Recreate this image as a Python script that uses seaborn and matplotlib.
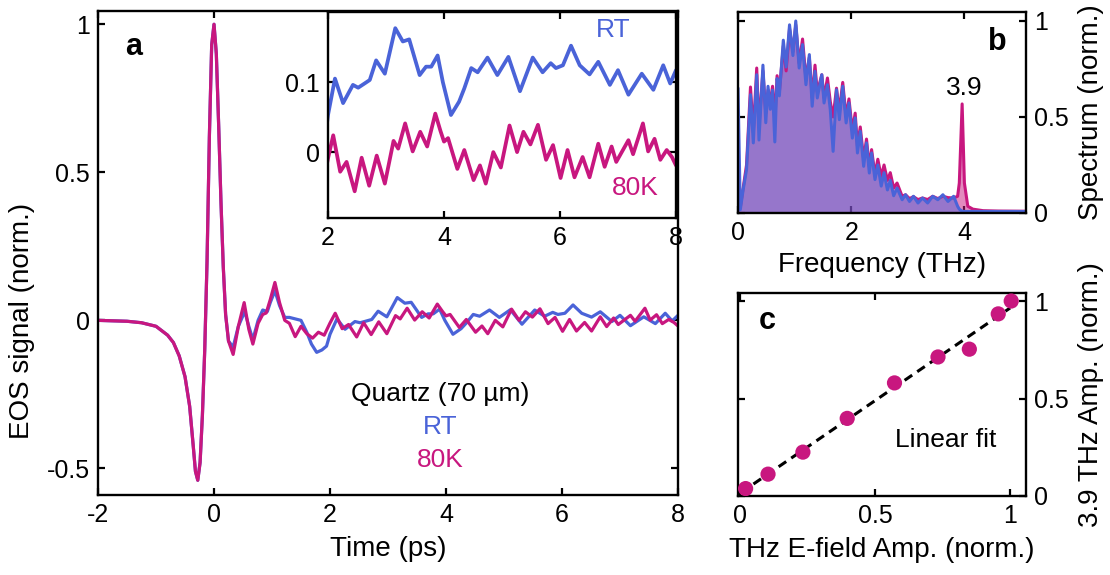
import matplotlib
matplotlib.use("Agg")
import matplotlib.pyplot as plt
import numpy as np
import seaborn as sns

# ---- panel a: EOS time traces ----
t_pulse = [-2.0, -1.5, -1.25, -1.0, -0.8, -0.7, -0.6, -0.5, -0.42, -0.36, -0.32, -0.28,
           -0.24, -0.2, -0.16, -0.12, -0.08, -0.04, 0.0, 0.04, 0.08, 0.12, 0.16, 0.2, 0.25]
v_pulse = [0.0, -0.003, -0.008, -0.02, -0.05, -0.075, -0.12, -0.19, -0.29, -0.42, -0.51, -0.54,
           -0.48, -0.32, -0.1, 0.2, 0.62, 0.93, 1.0, 0.9, 0.66, 0.4, 0.18, 0.02, -0.07]

t_rt_tail = [0.33, 0.42, 0.53, 0.6, 0.67, 0.76, 0.84, 0.92, 0.97, 1.05, 1.13, 1.22, 1.3, 1.4,
             1.5, 1.6, 1.68, 1.77, 1.86, 1.94,
             2.0, 2.12, 2.26, 2.43, 2.52, 2.63, 2.72, 2.83, 2.98, 3.16, 3.29, 3.4, 3.58, 3.69,
             3.78, 3.89, 3.98, 4.12, 4.26, 4.35, 4.47, 4.58, 4.75, 4.92, 5.11, 5.31, 5.53, 5.7,
             5.84, 5.93, 6.05, 6.19, 6.34, 6.51, 6.66, 6.86, 7.0, 7.18, 7.41, 7.61, 7.78, 7.9, 8.0]
v_rt_tail = [-0.09, -0.02, 0.03, -0.02, -0.065, 0.0, 0.035, 0.03, 0.06, 0.1, 0.05, 0.01, 0.01, 0.005,
             0.0, -0.04, -0.08, -0.108, -0.1, -0.087,
             -0.047, 0.005, -0.03, -0.004, -0.008, -0.002, 0.003, 0.031, 0.012, 0.077, 0.058, 0.061,
             0.01, 0.022, 0.022, 0.038, 0.0, -0.047, -0.028, -0.009, 0.02, 0.014, 0.035, 0.01,
             0.036, -0.013, 0.035, 0.014, 0.027, 0.02, 0.024, 0.052, 0.024, 0.011, 0.029, -0.004,
             0.017, -0.018, 0.012, -0.011, 0.024, -0.002, 0.017]

t_80k_tail = [0.33, 0.42, 0.52, 0.6, 0.67, 0.76, 0.84, 0.9, 0.97, 1.05, 1.13, 1.22, 1.3, 1.4,
              1.5, 1.6, 1.7, 1.8, 1.9,
              2.0, 2.09, 2.21, 2.32, 2.46, 2.58, 2.71, 2.84, 2.98, 3.13, 3.21, 3.33, 3.46, 3.59,
              3.71, 3.85, 3.94, 4.0, 4.07, 4.23, 4.35, 4.51, 4.62, 4.72, 4.85, 4.98, 5.13, 5.26,
              5.37, 5.49, 5.62, 5.76, 5.88, 6.01, 6.13, 6.25, 6.39, 6.51, 6.66, 6.77, 6.89, 6.97,
              7.18, 7.26, 7.43, 7.52, 7.63, 7.73, 7.84, 7.93, 8.0]
v_80k_tail = [-0.115, -0.02, 0.06, -0.03, -0.08, -0.01, 0.02, 0.025, 0.07, 0.128, 0.06, 0.0, -0.01,
              -0.055, -0.02, -0.045, -0.06, -0.04, -0.05,
              -0.009, 0.024, -0.028, -0.014, -0.056, -0.008, -0.048, -0.005, -0.045, 0.016, 0.005,
              0.041, 0.001, 0.029, 0.008, 0.055, 0.03, 0.015, 0.02, -0.024, 0.003, -0.04, -0.019,
              -0.045, 0.0, -0.022, 0.038, 0.0, 0.029, 0.011, 0.039, -0.011, 0.01, -0.037, 0.003,
              -0.036, -0.007, -0.036, 0.012, -0.021, 0.008, -0.014, 0.017, -0.003, 0.041, 0.001,
              0.019, -0.011, 0.003, -0.007, -0.019]

t_rt = t_pulse + t_rt_tail
v_rt = v_pulse + v_rt_tail
t_80k = t_pulse + t_80k_tail
v_80k = v_pulse + v_80k_tail
inset_offset_rt = 0.1

# ---- panel b: spectra ----
freq = [0.0, 0.04, 0.09, 0.15, 0.22, 0.27, 0.33, 0.37, 0.44, 0.49, 0.53, 0.57, 0.61, 0.65, 0.69,
        0.73, 0.8, 0.85, 0.91, 0.97, 1.02, 1.08, 1.14, 1.2, 1.26, 1.31, 1.36, 1.4, 1.48, 1.52,
        1.58, 1.63, 1.68, 1.74, 1.79, 1.85, 1.91, 1.96, 2.02, 2.07, 2.11, 2.16, 2.22, 2.27, 2.32,
        2.36, 2.42, 2.47, 2.53, 2.58, 2.64, 2.69, 2.75, 2.81, 2.9, 2.96, 3.03, 3.1, 3.18, 3.26,
        3.35, 3.44, 3.53, 3.62, 3.71, 3.81, 3.88, 3.91, 3.96, 4.0, 4.06, 4.15, 4.33, 4.6, 5.08]
spec_rt = [0.65, 0.017, 0.12, 0.226, 0.616, 0.365, 0.72, 0.38, 0.77, 0.47, 0.66, 0.54, 0.64, 0.37,
           0.7, 0.61, 0.9, 0.76, 0.98, 0.82, 1.0, 0.755, 0.877, 0.668, 0.825, 0.556, 0.738, 0.599,
           0.72, 0.573, 0.668, 0.538, 0.321, 0.642, 0.486, 0.66, 0.469, 0.573, 0.39, 0.495, 0.3125,
           0.425, 0.243, 0.365, 0.208, 0.3125, 0.174, 0.25, 0.14, 0.21, 0.12, 0.17, 0.09, 0.13,
           0.069, 0.095, 0.06, 0.087, 0.052, 0.078, 0.052, 0.087, 0.069, 0.095, 0.06, 0.087, 0.035,
           0.02, 0.009, 0.008, 0.008, 0.008, 0.008, 0.008, 0.008]
spec_80k = [0.03, 0.03, 0.13, 0.25, 0.656, 0.42, 0.755, 0.45, 0.74, 0.52, 0.64, 0.58, 0.66, 0.48,
            0.715, 0.63, 0.87, 0.74, 0.96, 0.84, 0.98, 0.78, 0.906, 0.7, 0.81, 0.6, 0.77, 0.63,
            0.72, 0.6, 0.703, 0.58, 0.5, 0.65, 0.53, 0.68, 0.5, 0.594, 0.43, 0.52, 0.35, 0.448,
            0.28, 0.385, 0.24, 0.33, 0.2, 0.28, 0.19, 0.25, 0.17, 0.21, 0.13, 0.156, 0.087, 0.095,
            0.075, 0.085, 0.07, 0.078, 0.07, 0.087, 0.075, 0.087, 0.08, 0.078, 0.087, 0.156, 0.568,
            0.156, 0.035, 0.02, 0.012, 0.01, 0.009]

# ---- panel c: 3.9 THz amplitude vs field ----
field_amp = [0.021, 0.104, 0.233, 0.397, 0.572, 0.733, 0.849, 0.956, 1.004]
phonon_amp = [0.038, 0.112, 0.225, 0.398, 0.58, 0.713, 0.753, 0.934, 1.0]

BLUE = "#4a63d8"
MAG = "#c8177f"

sns.set_theme(style="ticks")
plt.rcParams["font.family"] = ["Liberation Sans", "DejaVu Sans"]
plt.rcParams["axes.unicode_minus"] = False
plt.rcParams["text.color"] = "black"
plt.rcParams["axes.labelcolor"] = "black"
plt.rcParams["lines.solid_joinstyle"] = "round"
TICK_FS = 18
LAB_FS = 20
TXT_FS = 19


def style_axis(ax, right_labels=False):
    ax.tick_params(direction="in", length=5, width=1.6, top=True, right=True,
                   labelsize=TICK_FS, colors="black", pad=6,
                   labelleft=not right_labels, labelright=right_labels)
    for s in ax.spines.values():
        s.set_linewidth(1.7)
        s.set_color("black")


fig = plt.figure(figsize=(11.1, 5.75), dpi=100)

# panel a
ax_a = fig.add_axes([0.0883, 0.139, 0.5225, 0.842])
sns.lineplot(x=t_rt, y=v_rt, ax=ax_a, color=BLUE, linewidth=2.3, sort=False)
sns.lineplot(x=t_80k, y=v_80k, ax=ax_a, color=MAG, linewidth=2.3, sort=False)
ax_a.set_xlim(-2, 8)
ax_a.set_ylim(-0.59, 1.045)
ax_a.set_xticks([-2, 0, 2, 4, 6, 8])
ax_a.set_xticklabels(["-2", "0", "2", "4", "6", "8"])
ax_a.set_yticks([-0.5, 0, 0.5, 1])
ax_a.set_yticklabels(["-0.5", "0", "0.5", "1"])
ax_a.set_xlabel("Time (ps)", fontsize=LAB_FS, labelpad=6)
ax_a.set_ylabel("EOS signal (norm.)", fontsize=LAB_FS)
ax_a.yaxis.set_label_coords(-0.108, 0.36)
style_axis(ax_a)
ax_a.text(0.047, 0.925, "a", transform=ax_a.transAxes, fontsize=22, fontweight="bold", va="center")
ax_a.text(3.9, -0.25, "Quartz (70 µm)", fontsize=TXT_FS, ha="center", va="center")
ax_a.text(3.9, -0.36, "RT", fontsize=TXT_FS, ha="center", va="center", color=BLUE)
ax_a.text(3.9, -0.47, "80K", fontsize=TXT_FS, ha="center", va="center", color=MAG)

# inset
ax_i = fig.add_axes([0.2955, 0.621, 0.3135, 0.358])
sns.lineplot(x=t_rt, y=np.array(v_rt) + inset_offset_rt, ax=ax_i, color=BLUE, linewidth=2.7, sort=False)
sns.lineplot(x=t_80k, y=v_80k, ax=ax_i, color=MAG, linewidth=2.7, sort=False)
ax_i.set_xlim(2, 8)
ax_i.set_ylim(-0.094, 0.2)
ax_i.set_xticks([2, 4, 6, 8])
ax_i.set_yticks([0, 0.1])
ax_i.set_yticklabels(["0", "0.1"])
style_axis(ax_i)
ax_i.text(6.92, 0.174, "RT", fontsize=TXT_FS, ha="center", va="center", color=BLUE)
ax_i.text(7.3, -0.051, "80K", fontsize=TXT_FS, ha="center", va="center", color=MAG)

# panel b
ax_b = fig.add_axes([0.6649, 0.6296, 0.2595, 0.3496])
ax_b.fill_between(freq, spec_80k, color=MAG, alpha=0.5, linewidth=0)
ax_b.fill_between(freq, spec_rt, color=BLUE, alpha=0.5, linewidth=0)
sns.lineplot(x=freq, y=spec_80k, ax=ax_b, color=MAG, linewidth=2.2, sort=False)
sns.lineplot(x=freq, y=spec_rt, ax=ax_b, color=BLUE, linewidth=2.2, sort=False)
ax_b.set_xlim(0, 5.09)
ax_b.set_ylim(0, 1.047)
ax_b.set_xticks([0, 2, 4])
ax_b.set_yticks([0, 0.5, 1])
ax_b.set_yticklabels(["0", "0.5", "1"])
ax_b.set_xlabel("Frequency (THz)", fontsize=LAB_FS, labelpad=5)
ax_b.set_ylabel("Spectrum (norm.)", fontsize=LAB_FS, labelpad=6)
ax_b.yaxis.set_label_position("right")
style_axis(ax_b, right_labels=True)
ax_b.text(4.59, 0.89, "b", fontsize=22, fontweight="bold", ha="center", va="center")
ax_b.text(4.0, 0.65, "3.9", fontsize=TXT_FS, ha="center", va="center")

# panel c
ax_c = fig.add_axes([0.6649, 0.1374, 0.2595, 0.353])
slope, icpt = np.polyfit(field_amp, phonon_amp, 1)
fit_x = np.array([0.05, 1.0])
ax_c.plot(fit_x, slope * fit_x + icpt, color="black", linestyle=(0, (3, 2)), linewidth=2.2)
sns.scatterplot(x=field_amp, y=phonon_amp, ax=ax_c, color=MAG, s=120, edgecolor="none", zorder=3)
ax_c.set_xlim(-0.007, 1.059)
ax_c.set_ylim(0, 1.041)
ax_c.set_xticks([0, 0.5, 1])
ax_c.set_xticklabels(["0", "0.5", "1"])
ax_c.set_yticks([0, 0.5, 1])
ax_c.set_yticklabels(["0", "0.5", "1"])
ax_c.set_xlabel("THz E-field Amp. (norm.)", fontsize=LAB_FS, labelpad=6)
ax_c.set_ylabel("3.9 THz Amp. (norm.)", fontsize=LAB_FS, labelpad=6)
ax_c.yaxis.set_label_position("right")
style_axis(ax_c, right_labels=True)
ax_c.text(0.10, 0.90, "c", fontsize=22, fontweight="bold", ha="center", va="center")
ax_c.text(0.76, 0.287, "Linear fit", fontsize=TXT_FS, ha="center", va="center")

fig.savefig("out.png", dpi=100)
